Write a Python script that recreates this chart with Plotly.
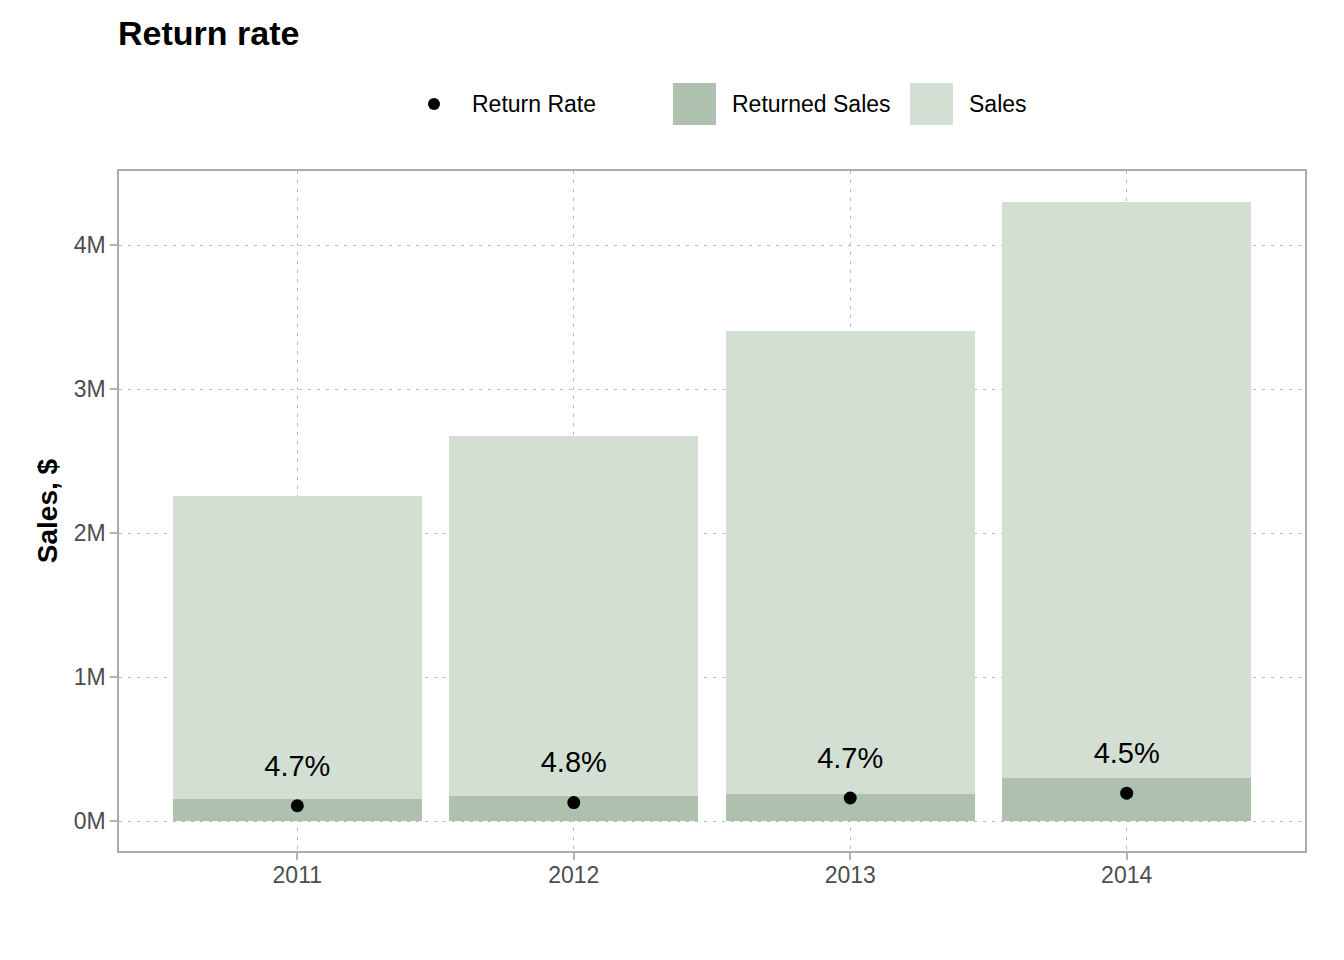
import plotly.graph_objects as go

# ---- data ----
years = ["2011", "2012", "2013", "2014"]
sales = [2.257e6, 2.674e6, 3.403e6, 4.299e6]
returned_sales = [0.153e6, 0.174e6, 0.188e6, 0.299e6]
return_rate = [4.7, 4.8, 4.7, 4.5]  # percent
y_tick_vals = [0, 1e6, 2e6, 3e6, 4e6]
y_tick_text = ["0M", "1M", "2M", "3M", "4M"]

SALES_COLOR = "#d4dfd4"
RETURNED_COLOR = "#adc1ae"
FONT = "Liberation Sans, Arial, Helvetica, sans-serif"
LABEL_OFFSET = 0.26e6

rate_points = [r / 100 * s for r, s in zip(return_rate, sales)]
rate_labels = [f"{r:.1f}%" for r in return_rate]

fig = go.Figure()
fig.add_trace(go.Bar(x=years, y=sales, width=0.9, marker=dict(color=SALES_COLOR, line_width=0),
                     name="Sales", showlegend=False))
fig.add_trace(go.Bar(x=years, y=returned_sales, width=0.9, marker=dict(color=RETURNED_COLOR, line_width=0),
                     name="Returned Sales", showlegend=False))
fig.add_trace(go.Scatter(x=years, y=rate_points, mode="markers",
                         marker=dict(color="black", size=13), name="Return Rate", showlegend=False))
fig.add_trace(go.Scatter(x=years, y=[p + LABEL_OFFSET for p in rate_points], mode="text",
                         text=rate_labels, textposition="middle center",
                         textfont=dict(family=FONT, size=29, color="black"),
                         showlegend=False, hoverinfo="skip"))

# plot area in pixels
L, R, T, B = 119, 1305, 171, 851
W, H = 1344, 960


def px(x):
    return (x - L) / (R - L)


def py(y):
    return (B - y) / (B - T)


axis_common = dict(
    showline=True, mirror=True, linecolor="#ababab", linewidth=1.5,
    ticks="outside", ticklen=7, tickwidth=1.5, tickcolor="#b3b3b3",
    showgrid=True, gridcolor="#b8b8b8", gridwidth=1.2, griddash="3px,6px",
    zeroline=False,
    tickfont=dict(family=FONT, size=23, color="#4d4d4d"),
)

fig.update_layout(
    width=W, height=H,
    margin=dict(l=L, r=W - R, t=T, b=H - B),
    paper_bgcolor="white", plot_bgcolor="white",
    barmode="overlay", bargap=0,
    showlegend=False,
    font=dict(family=FONT),
    xaxis=dict(type="category", range=[-0.645, 3.645], ticklabelstandoff=-4, **axis_common),
    yaxis=dict(range=[-0.208e6, 4.514e6], tickvals=y_tick_vals, ticktext=y_tick_text,
               title=dict(text="<b>Sales, $</b>", font=dict(family=FONT, size=28, color="black"),
                          standoff=8),
               **axis_common),
)

# title
fig.add_annotation(text="<b>Return rate</b>", xref="paper", yref="paper", x=px(116), y=py(33),
                   xanchor="left", yanchor="middle", showarrow=False,
                   font=dict(family=FONT, size=34, color="black"))

# manual legend (ggplot-like keys)
fig.add_shape(type="circle", xref="paper", yref="paper",
              x0=px(428), x1=px(440), y0=py(110), y1=py(98),
              fillcolor="black", line_width=0)
fig.add_shape(type="rect", xref="paper", yref="paper",
              x0=px(673), x1=px(716), y0=py(125), y1=py(83),
              fillcolor=RETURNED_COLOR, line_width=0)
fig.add_shape(type="rect", xref="paper", yref="paper",
              x0=px(910), x1=px(953), y0=py(125), y1=py(83),
              fillcolor=SALES_COLOR, line_width=0)
for label, xpos in [("Return Rate", 470), ("Returned Sales", 730), ("Sales", 967)]:
    fig.add_annotation(text=label, xref="paper", yref="paper", x=px(xpos), y=py(104),
                       xanchor="left", yanchor="middle", showarrow=False,
                       font=dict(family=FONT, size=23, color="black"))

fig.write_html("out.html", config={"displayModeBar": False},
               post_script="document.body.style.margin='0';")
